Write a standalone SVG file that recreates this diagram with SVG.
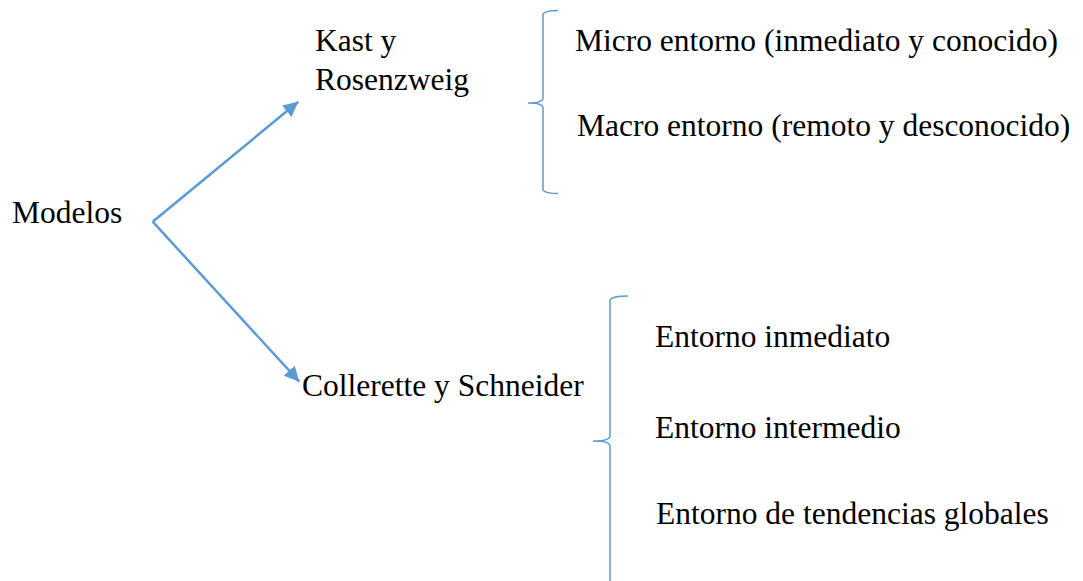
<svg xmlns="http://www.w3.org/2000/svg" width="1083" height="581" viewBox="0 0 1083 581">
<style>
.t{font-family:"Liberation Serif","Times New Roman",serif;font-size:31.5px;fill:#000}
.c{stroke:#5B9BD5;stroke-width:2.5;fill:none}
.b{stroke:#5B9BD5;stroke-width:1.5;fill:none}
</style>
<defs>
<marker id="ah" markerUnits="userSpaceOnUse" markerWidth="17" markerHeight="15" refX="15" refY="7.5" orient="auto">
<path d="M0,0 L15,7.5 L0,15 Z" fill="#5B9BD5"/>
</marker>
</defs>
<rect width="1083" height="581" fill="#fff"/>
<g id="connectors">
<line class="c" x1="152.7" y1="221.7" x2="298.3" y2="101.7" marker-end="url(#ah)"/>
<line class="c" x1="152.7" y1="221.7" x2="299.3" y2="381.7" marker-end="url(#ah)"/>
<path id="brace1" class="b" d="M558,10.5 Q545,10.5 543,14 L543,98 Q543,103 528,103 Q543,103 543,108 L543,190 Q545,193.5 558,193.5"/>
<path id="brace2" class="b" d="M628,296 Q612,296 610,300 L610,436 Q610,441 593,441 Q610,441 610,446 L610,581"/>
</g>
<g id="modelos"><text class="t" x="12" y="223">Modelos</text></g>
<g id="kast"><text class="t" x="315" y="51">Kast y</text><text class="t" x="315" y="90">Rosenzweig</text></g>
<g id="collerette"><text class="t" x="302" y="396">Collerette y Schneider</text></g>
<g id="micro"><text class="t" x="575" y="51">Micro entorno (inmediato y conocido)</text></g>
<g id="macro"><text class="t" x="577" y="136">Macro entorno (remoto y desconocido)</text></g>
<g id="inmediato"><text class="t" x="655" y="347">Entorno inmediato</text></g>
<g id="intermedio"><text class="t" x="655" y="438">Entorno intermedio</text></g>
<g id="global"><text class="t" x="656" y="524">Entorno de tendencias globales</text></g>
</svg>
